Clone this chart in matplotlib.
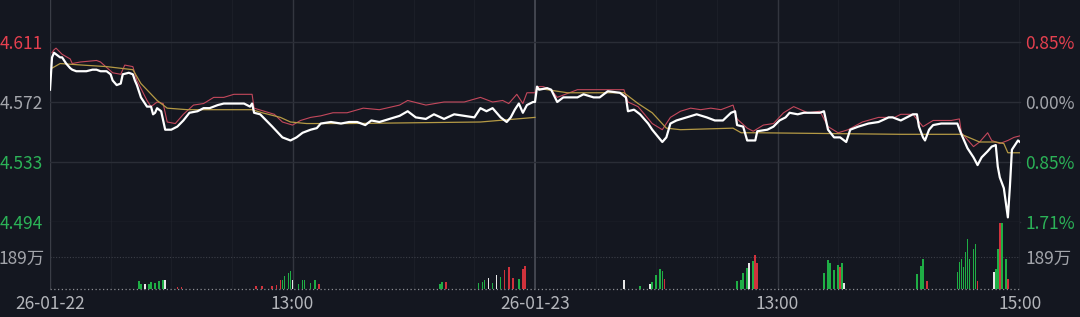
import numpy as np
import matplotlib
matplotlib.use("Agg")
import matplotlib.pyplot as plt

plt.rcParams['font.family'] = ['Noto Sans CJK SC', 'DejaVu Sans']

# Two trading days, minute index 0..480 (240 minutes per day)
prev_close = 4.572
price_ticks = [4.494, 4.533, 4.572, 4.611]
x_ticks = [0, 120, 240, 360, 480]
x_labels = ["26-01-22", "13:00", "26-01-23", "13:00", "15:00"]
vol_tick = 189  # 万

# last price (white)
price_t = [0, 1, 2, 3, 5, 6, 8, 10, 11, 13, 18, 21, 23, 25, 28, 30, 31, 33, 35, 36,
           39, 41, 42, 43, 45, 46, 48, 50, 51, 52, 53, 55, 57, 59, 60, 63, 66, 69, 73, 76,
           79, 83, 86, 91, 96, 99, 100, 101, 104, 107, 110, 115, 119, 122, 125, 129, 132, 134, 139, 144,
           148, 152, 156, 159, 163, 168, 173, 177, 181, 186, 190, 195, 200, 205, 210, 213, 216, 219, 223, 226,
           228, 230, 232, 234, 236, 239, 240,
           241, 242, 246, 248, 251, 254, 257, 261, 264, 269, 272, 276, 282, 285, 286, 289, 292, 296, 298, 303,
           305, 307, 310, 315, 320, 325, 329, 333, 337, 339, 340, 343, 345, 349, 350, 355, 358, 361, 364, 366,
           370, 373, 378, 381, 383, 385, 388, 391, 394, 396, 400, 405, 410, 415, 417, 421, 427, 429, 430, 432,
           433, 435, 437, 441, 446, 449, 451, 454, 457, 459, 461, 464, 466, 468, 469, 470, 472, 474, 475, 476,
           477, 479, 480]
price_v = [4.580, 4.601, 4.604, 4.603, 4.601, 4.601, 4.597, 4.594, 4.593, 4.592, 4.592, 4.593, 4.593, 4.592, 4.592, 4.590, 4.586, 4.583, 4.584, 4.590,
           4.591, 4.590, 4.586, 4.583, 4.575, 4.573, 4.569, 4.569, 4.564, 4.565, 4.568, 4.566, 4.554, 4.554, 4.554, 4.556, 4.560, 4.565, 4.566, 4.568,
           4.568, 4.570, 4.571, 4.571, 4.571, 4.569, 4.571, 4.565, 4.564, 4.560, 4.556, 4.549, 4.547, 4.549, 4.552, 4.554, 4.555, 4.558, 4.559, 4.558,
           4.559, 4.559, 4.557, 4.560, 4.559, 4.561, 4.563, 4.566, 4.562, 4.561, 4.564, 4.561, 4.564, 4.563, 4.562, 4.568, 4.566, 4.568, 4.562, 4.559,
           4.562, 4.567, 4.571, 4.565, 4.570, 4.572, 4.572,
           4.582, 4.580, 4.581, 4.580, 4.572, 4.575, 4.575, 4.575, 4.577, 4.575, 4.575, 4.579, 4.578, 4.575, 4.566, 4.567, 4.564, 4.558, 4.554, 4.546,
           4.549, 4.558, 4.560, 4.562, 4.564, 4.562, 4.560, 4.560, 4.565, 4.566, 4.557, 4.556, 4.547, 4.547, 4.553, 4.554, 4.556, 4.560, 4.562, 4.565,
           4.564, 4.565, 4.565, 4.565, 4.566, 4.554, 4.549, 4.549, 4.546, 4.554, 4.556, 4.558, 4.559, 4.562, 4.562, 4.560, 4.564, 4.564, 4.556, 4.549,
           4.547, 4.554, 4.557, 4.558, 4.558, 4.558, 4.551, 4.542, 4.536, 4.531, 4.536, 4.540, 4.543, 4.544, 4.530, 4.523, 4.516, 4.497, 4.517, 4.541,
           4.543, 4.547, 4.546]

# reference line (pink)
ref_t = [1, 2, 3, 6, 10, 11, 15, 23, 25, 31, 35, 37, 41, 43, 48, 50, 53, 56, 58, 62,
         66, 71, 76, 81, 86, 91, 96, 100, 101, 106, 111, 115, 120, 124, 129, 134, 140, 147, 155, 163,
         173, 177, 186, 195, 205, 213, 219, 224, 227, 231, 234, 236, 240,
         241, 244, 248, 251, 261, 276, 284, 286, 291, 298, 303, 307, 312, 317, 322, 327, 332, 338, 340, 345,
         348, 353, 358, 363, 368, 375, 381, 385, 390, 395, 402, 410, 418, 421, 427, 432, 437, 446, 450, 451,
         457, 460, 464, 466, 470, 474, 477, 480]
ref_v = [4.604, 4.606, 4.607, 4.603, 4.600, 4.597, 4.598, 4.599, 4.598, 4.591, 4.590, 4.596, 4.595, 4.586, 4.573, 4.569, 4.572, 4.571, 4.559, 4.558,
         4.564, 4.570, 4.571, 4.575, 4.575, 4.577, 4.577, 4.577, 4.568, 4.566, 4.564, 4.559, 4.557, 4.560, 4.562, 4.563, 4.565, 4.565, 4.568, 4.567,
         4.570, 4.573, 4.570, 4.572, 4.572, 4.575, 4.572, 4.573, 4.571, 4.577, 4.571, 4.578, 4.578,
         4.582, 4.582, 4.580, 4.575, 4.580, 4.580, 4.580, 4.572, 4.569, 4.558, 4.554, 4.562, 4.566, 4.568, 4.567, 4.568, 4.567, 4.570, 4.561, 4.555,
         4.553, 4.557, 4.558, 4.565, 4.569, 4.565, 4.566, 4.556, 4.552, 4.554, 4.559, 4.562, 4.562, 4.564, 4.564, 4.556, 4.560, 4.560, 4.561, 4.552,
         4.543, 4.546, 4.552, 4.547, 4.545, 4.547, 4.549, 4.550]

# average price (yellow), one run per day
avg1_t = [1, 5, 16, 28, 41, 45, 53, 58, 68, 100, 105, 114, 119, 127, 148, 213, 240]
avg1_v = [4.594, 4.597, 4.596, 4.595, 4.593, 4.584, 4.573, 4.568, 4.567, 4.567, 4.565, 4.562, 4.559, 4.558, 4.558, 4.559, 4.562]
avg2_t = [241, 256, 284, 291, 298, 305, 312, 338, 342, 350, 421, 451, 460, 468, 472, 474, 480]
avg2_v = [4.581, 4.578, 4.578, 4.571, 4.565, 4.555, 4.554, 4.555, 4.552, 4.552, 4.551, 4.551, 4.546, 4.546, 4.545, 4.539, 4.539]

# volume bars (万), colour: g=down, r=up, w=flat
vol_t = [44, 45, 47, 49, 50, 52, 54, 56, 57, 63, 65,
         102, 105, 110, 112, 114, 115, 116, 118, 119, 120, 123, 125, 126, 129, 131, 133,
         193, 194, 196, 212, 214, 215, 217, 219, 221, 223, 225, 227, 229, 232, 234, 235,
         284, 292, 297, 298, 300, 302, 303, 304,
         340, 342, 343, 345, 346, 348, 349, 350,
         383, 385, 386, 388, 390, 391, 392, 393,
         429, 431, 432, 434, 449, 450, 451, 452, 453, 454, 455, 457, 458, 459,
         467, 468, 469, 470, 471, 473, 474]
vol_v = [47, 30, 30, 30, 41, 35, 47, 53, 53, 12, 12,
         18, 18, 18, 24, 53, 53, 77, 94, 106, 53, 30, 53, 53, 35, 53, 30,
         30, 41, 41, 35, 41, 53, 65, 35, 83, 71, 112, 130, 65, 59, 118, 136,
         53, 18, 30, 41, 83, 118, 106, 59,
         47, 53, 94, 124, 154, 165, 201, 154,
         94, 171, 154, 112, 142, 130, 154, 35,
         89, 136, 177, 47, 100, 159, 177, 130, 219, 295, 177, 236, 266, 47,
         100, 118, 236, 390, 390, 177, 59]
vol_c = list("ggwgggggwrr"
             "rrrrrggggwgggggr"
             "ggrgggwgwgrrrgrr"
             "wgwggggr"
             "ggggwgrr"
             "gggggrgw"
             "gggrgggggggggr"
             "wggrggr")

BG = "#141720"
GRID = "#2a2d36"
RED = "#e5404f"
GREEN = "#2bb257"
GREY = "#a3a5ab"
col_map = {"g": "#1fae45", "r": "#d0323c", "w": "#e8e8e8"}

fig = plt.figure(figsize=(10.8, 3.17), dpi=100, facecolor=BG)
ax = fig.add_axes([50 / 1080, 95 / 317, 970 / 1080, 222 / 317], facecolor=BG)
axv = fig.add_axes([50 / 1080, 28 / 317, 970 / 1080, 67 / 317], facecolor=BG)

px_per_unit = 180 / (price_ticks[-1] - price_ticks[0])
ax.set_ylim(price_ticks[0], price_ticks[0] + 222 / px_per_unit)
vol_top = vol_tick * 67 / 32
axv.set_ylim(0, vol_top)
for a in (ax, axv):
    a.set_xlim(0, 480)
    for s in a.spines.values():
        s.set_visible(False)
    # faint half-hour grid
    for m in range(30, 480, 30):
        a.axvline(m, color="#1b1e27", lw=0.8, zorder=0)
    a.axvline(0, color="#3a3d46", lw=1, zorder=1)
    a.axvline(480, color="#3a3d46", lw=1, zorder=1)
    a.axvline(120, color="#33363f", lw=1, zorder=1)
    a.axvline(360, color="#33363f", lw=1, zorder=1)
    a.axvline(240, color="#4a4d57", lw=1.2, zorder=1)

for p in price_ticks:
    ax.axhline(p, color=GRID, lw=1, zorder=1, clip_on=False)

ax.plot(ref_t, ref_v, color="#c4485c", lw=0.8, zorder=3)
ax.plot(avg1_t, avg1_v, color="#b59a45", lw=0.9, zorder=4)
ax.plot(avg2_t, avg2_v, color="#b59a45", lw=0.9, zorder=4)
ax.plot(price_t, price_v, color="white", lw=1.6, zorder=5)

# price labels left, percent labels right
price_cols = [GREEN if p < prev_close else (RED if p > prev_close else GREY) for p in price_ticks]
ax.set_xticks([])
ax.set_yticks(price_ticks)
ax.set_yticklabels(["%.3f" % p for p in price_ticks])
ax.tick_params(axis="y", length=0, pad=5, labelsize=12.5)
for lab, c in zip(ax.get_yticklabels(), price_cols):
    lab.set_color(c)

ax_r = ax.twinx()
ax_r.set_ylim(ax.get_ylim())
for s in ax_r.spines.values():
    s.set_visible(False)
ax_r.set_yticks(price_ticks)
ax_r.set_yticklabels(["%.2f%%" % abs((p / prev_close - 1) * 100) for p in price_ticks])
ax_r.tick_params(axis="y", length=0, pad=4, labelsize=12.5)
for lab, c in zip(ax_r.get_yticklabels(), price_cols):
    lab.set_color(c)

# volume, one bar call per colour
vt = np.array(vol_t)
vv = np.array(vol_v)
vc = np.array(vol_c)
for code, col in col_map.items():
    sel = vc == code
    axv.bar(vt[sel], vv[sel], width=0.8, color=col, linewidth=0, zorder=3)
axv.axhline(vol_tick, color="#3c3f48", lw=0.8, ls=(0, (1, 1.5)), zorder=1)
axv.axhline(0, color="#8c8e93", lw=0.9, ls=(0, (1, 2)), zorder=2, clip_on=False)
axv.set_yticks([vol_tick])
axv.set_yticklabels(["%d万" % vol_tick])
axv.tick_params(axis="y", length=0, pad=4, labelsize=12.5, labelcolor=GREY,
                labelleft=True, labelright=True)
axv.set_xticks(x_ticks)
axv.set_xticklabels(x_labels)
axv.tick_params(axis="x", length=0, pad=4, labelsize=12.5, labelcolor="#b4b6bb")

fig.savefig("out.png", dpi=100, facecolor=BG)
